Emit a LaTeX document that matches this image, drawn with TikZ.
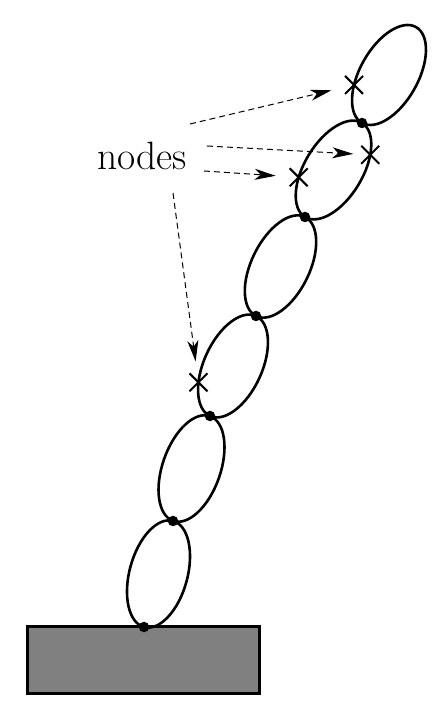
\documentclass[tikz,border=0pt]{standalone}
\usetikzlibrary{shapes.misc,arrows.meta}
\begin{document}
\begin{tikzpicture}[x=1pt,y=1pt,
  link/.style={line width=2.6pt},
  joint/.style={circle,fill=black,inner sep=0pt,minimum size=10.5pt},
  xmark/.style={cross out,draw=black,line width=2pt,minimum size=16pt,inner sep=0pt},
  pointer/.style={dash pattern=on 6pt off 4pt,line width=1pt,-{Stealth[length=21pt,width=11pt,inset=6pt]}},
  basebox/.style={draw=black,line width=3.6pt,fill={rgb,255:red,128;green,128;blue,128},inner sep=0pt}]
\useasboundingbox (0,0) rectangle (441,719);
% base block
\node[basebox,minimum width=232pt,minimum height=67pt,anchor=south west] (base) at (25.8,23.8) {};
% joints
\coordinate (j0) at (144,92);
\coordinate (j1) at (173,198);
\coordinate (j2) at (210,303);
\coordinate (j3) at (256,403);
\coordinate (j4) at (305,502);
\coordinate (j5) at (362,596);
\coordinate (j6) at (416,692);
% links
\begin{scope}[shift={(158.5,145)},rotate=74.7]
  \draw[link] (0,0) ellipse [x radius=55, y radius=29];
\end{scope}
\begin{scope}[shift={(191.5,250.5)},rotate=70.6]
  \draw[link] (0,0) ellipse [x radius=55.5, y radius=29];
\end{scope}
\begin{scope}[shift={(233,353)},rotate=65.3]
  \draw[link] (0,0) ellipse [x radius=55, y radius=29];
  \node[xmark] (c1) at (122.2:55 and 29) {};
\end{scope}
\begin{scope}[shift={(280.5,452.5)},rotate=63.7]
  \draw[link] (0,0) ellipse [x radius=55.2, y radius=29];
\end{scope}
\begin{scope}[shift={(333.5,549)},rotate=58.8]
  \draw[link] (0,0) ellipse [x radius=55, y radius=29];
  \node[xmark] (c2) at (116.2:55 and 29) {};
  \node[xmark] (c3) at (-54.4:55 and 29) {};
\end{scope}
\begin{scope}[shift={(389,644)},rotate=60.6]
  \draw[link] (0,0) ellipse [x radius=55, y radius=29];
  \node[xmark] (c4) at (118:55 and 29) {};
\end{scope}
% joint dots
\foreach \j in {j0,j1,j2,j3,j4,j5}{\node[joint] (d\j) at (\j) {};}
% label
\node[font=\fontsize{39.5}{45}\selectfont,anchor=base west,inner sep=0pt] (lbl) at (97,549) {nodes};
\coordinate (s1) at (190,595);
\coordinate (s2) at (207,573);
\coordinate (s3) at (204,548);
\coordinate (s4) at (173,526);
\draw[pointer,shorten >=14pt] (s1) -- (c4);
\draw[pointer,shorten >=8pt] (s2) -- (c3);
\draw[pointer,shorten >=14pt] (s3) -- (c2);
\draw[pointer,shorten >=12pt] (s4) -- (c1);
\end{tikzpicture}
\end{document}
